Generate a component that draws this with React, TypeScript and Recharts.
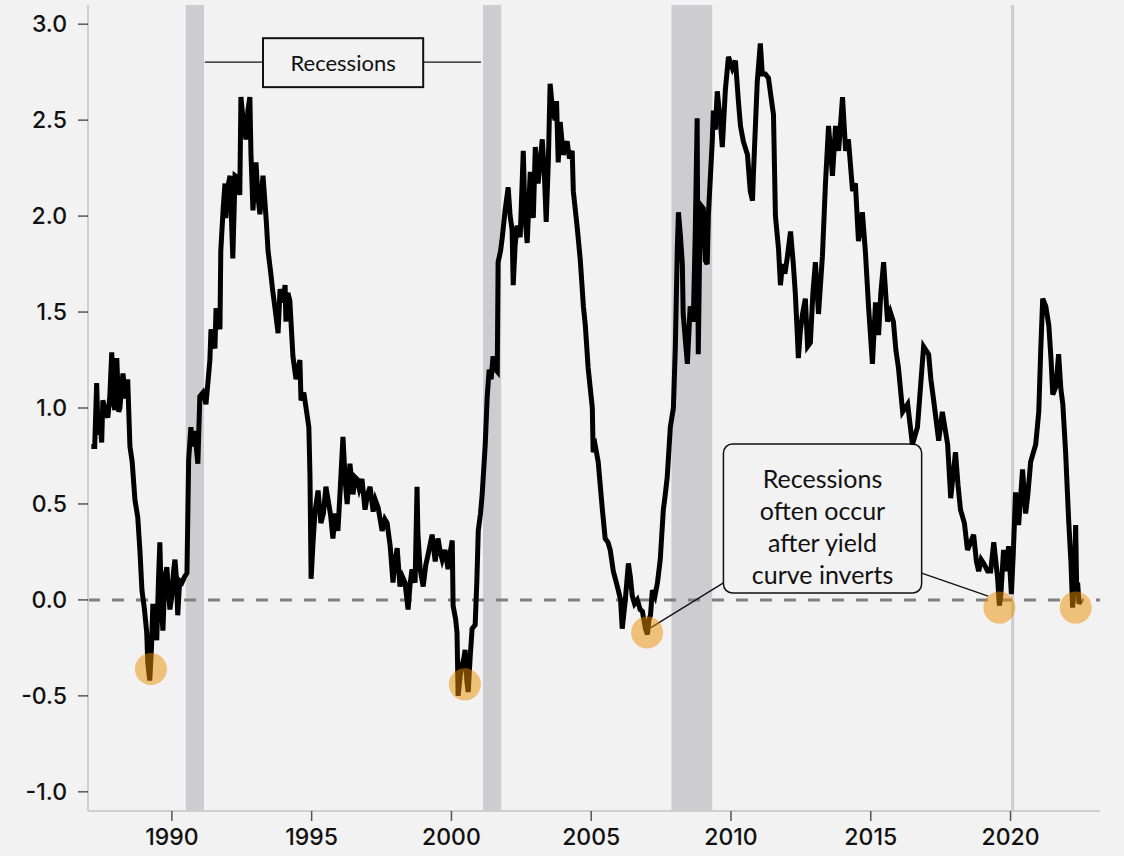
import {
  ComposedChart,
  Line,
  Scatter,
  XAxis,
  YAxis,
  ReferenceArea,
  ReferenceLine
} from 'recharts'

// 10y - 2y treasury spread, read at irregular dates (decimal years)
const years = [
  1987.12, 1987.24, 1987.31, 1987.36, 1987.42, 1987.49, 1987.53, 1987.62, 1987.71, 1987.78,
  1987.85, 1987.92, 1987.96, 1988.03, 1988.1, 1988.14, 1988.25, 1988.35, 1988.42, 1988.5,
  1988.58, 1988.68, 1988.78, 1988.86, 1988.93, 1989.02, 1989.1, 1989.14, 1989.21, 1989.27,
  1989.32, 1989.39, 1989.46, 1989.52, 1989.57, 1989.63, 1989.68, 1989.75, 1989.82, 1989.88,
  1989.93, 1990.0, 1990.06, 1990.11, 1990.16, 1990.21, 1990.28, 1990.36, 1990.45, 1990.54,
  1990.6, 1990.68, 1990.75, 1990.82, 1990.93, 1991.0, 1991.11, 1991.22, 1991.3, 1991.36,
  1991.4, 1991.54, 1991.58, 1991.66, 1991.72, 1991.75, 1991.84, 1991.9, 1991.93, 1992.0,
  1992.08, 1992.18, 1992.26, 1992.35, 1992.43, 1992.47, 1992.55, 1992.65, 1992.72, 1992.79,
  1992.83, 1992.9, 1993.01, 1993.08, 1993.15, 1993.26, 1993.37, 1993.44, 1993.54, 1993.6,
  1993.69, 1993.8, 1993.87, 1993.96, 1994.05, 1994.08, 1994.15, 1994.22, 1994.33, 1994.44,
  1994.58, 1994.62, 1994.72, 1994.8, 1994.9, 1994.94, 1994.98, 1995.05, 1995.12, 1995.23,
  1995.33, 1995.42, 1995.51, 1995.59, 1995.68, 1995.76, 1995.85, 1995.94, 1996.02, 1996.12,
  1996.2, 1996.27, 1996.37, 1996.48, 1996.55, 1996.62, 1996.7, 1996.8, 1996.91, 1997.0,
  1997.09, 1997.2, 1997.28, 1997.38, 1997.45, 1997.52, 1997.62, 1997.7, 1997.81, 1997.91,
  1997.98, 1998.06, 1998.16, 1998.25, 1998.34, 1998.45, 1998.52, 1998.59, 1998.7, 1998.77,
  1998.8, 1998.88, 1998.99, 1999.08, 1999.17, 1999.31, 1999.42, 1999.52, 1999.6, 1999.67,
  1999.77, 1999.88, 1999.96, 2000.03, 2000.06, 2000.15, 2000.2, 2000.24, 2000.31, 2000.38,
  2000.45, 2000.49, 2000.55, 2000.6, 2000.67, 2000.74, 2000.85, 2000.91, 2000.96, 2001.04,
  2001.1, 2001.21, 2001.28, 2001.35, 2001.42, 2001.49, 2001.58, 2001.64, 2001.67, 2001.76,
  2001.82, 2001.92, 2002.03, 2002.1, 2002.17, 2002.21, 2002.28, 2002.35, 2002.46, 2002.57,
  2002.63, 2002.71, 2002.82, 2002.93, 2003.0, 2003.1, 2003.25, 2003.33, 2003.39, 2003.47,
  2003.53, 2003.62, 2003.71, 2003.76, 2003.82, 2003.89, 2004.0, 2004.14, 2004.22, 2004.32,
  2004.36, 2004.5, 2004.61, 2004.72, 2004.79, 2004.89, 2005.04, 2005.07, 2005.15, 2005.25,
  2005.4, 2005.5, 2005.6, 2005.68, 2005.79, 2005.88, 2005.97, 2006.05, 2006.11, 2006.22,
  2006.33, 2006.4, 2006.47, 2006.55, 2006.65, 2006.75, 2006.83, 2006.94, 2007.01, 2007.07,
  2007.12, 2007.19, 2007.28, 2007.37, 2007.47, 2007.58, 2007.65, 2007.72, 2007.83, 2007.94,
  2008.01, 2008.08, 2008.12, 2008.19, 2008.26, 2008.29, 2008.37, 2008.44, 2008.54, 2008.65,
  2008.72, 2008.79, 2008.83, 2008.9, 2009.01, 2009.08, 2009.15, 2009.19, 2009.33, 2009.37,
  2009.44, 2009.51, 2009.62, 2009.69, 2009.8, 2009.91, 2010.05, 2010.16, 2010.27, 2010.34,
  2010.44, 2010.59, 2010.69, 2010.77, 2010.8, 2010.94, 2011.05, 2011.12, 2011.23, 2011.34,
  2011.48, 2011.52, 2011.59, 2011.7, 2011.77, 2011.84, 2011.93, 2012.02, 2012.13, 2012.23,
  2012.3, 2012.38, 2012.41, 2012.48, 2012.56, 2012.66, 2012.74, 2012.84, 2012.93, 2013.02,
  2013.13, 2013.27, 2013.38, 2013.49, 2013.63, 2013.74, 2013.85, 2013.99, 2014.1, 2014.2,
  2014.35, 2014.45, 2014.56, 2014.7, 2014.81, 2014.92, 2015.06, 2015.17, 2015.28, 2015.36,
  2015.46, 2015.6, 2015.7, 2015.81, 2015.9, 2015.99, 2016.14, 2016.32, 2016.49, 2016.67,
  2016.78, 2016.89, 2017.07, 2017.15, 2017.25, 2017.43, 2017.56, 2017.75, 2017.86, 2018.03,
  2018.12, 2018.21, 2018.35, 2018.46, 2018.57, 2018.68, 2018.78, 2018.86, 2018.95, 2019.04,
  2019.18, 2019.29, 2019.4, 2019.54, 2019.6, 2019.65, 2019.75, 2019.85, 2019.93, 2020.03,
  2020.1, 2020.18, 2020.29, 2020.43, 2020.54, 2020.62, 2020.72, 2020.9, 2021.01, 2021.08,
  2021.15, 2021.26, 2021.37, 2021.45, 2021.51, 2021.62, 2021.72, 2021.8, 2021.87, 2021.97,
  2022.08, 2022.16, 2022.22, 2022.28, 2022.33, 2022.37, 2022.4, 2022.45, 2022.51
]

const spread = [
  0.8, 0.8, 1.13, 0.86, 0.95, 0.82, 1.04, 0.98, 0.95, 1.06,
  1.29, 1.02, 0.99, 1.26, 0.98, 1.0, 1.18, 1.05, 1.15, 0.8,
  0.72, 0.52, 0.43, 0.25, 0.05, -0.05, -0.17, -0.33, -0.42, -0.25,
  -0.02, -0.15, -0.21, 0.1, 0.3, -0.05, -0.16, 0.12, 0.17, 0.05,
  -0.05, 0.02, 0.15, 0.21, 0.12, -0.08, 0.1, 0.09, 0.12, 0.14,
  0.73, 0.9, 0.8, 0.88, 0.71, 1.06, 1.08, 1.02, 1.15, 1.25,
  1.41, 1.31, 1.52, 1.45, 1.41, 1.82, 2.05, 2.17, 1.99, 2.15,
  2.21, 1.78, 2.21, 2.2, 2.11, 2.62, 2.5, 2.4, 2.55, 2.62,
  2.32, 2.03, 2.28, 2.1, 2.01, 2.21, 1.99, 1.82, 1.7, 1.62,
  1.52, 1.39, 1.62, 1.55, 1.64, 1.45, 1.6, 1.56, 1.27, 1.15,
  1.25, 1.04, 1.08, 1.0, 0.9, 0.65, 0.11, 0.3, 0.46, 0.57,
  0.4, 0.45, 0.59, 0.52, 0.44, 0.32, 0.45, 0.36, 0.57, 0.85,
  0.62, 0.5, 0.71, 0.55, 0.64, 0.63, 0.58, 0.63, 0.47, 0.55,
  0.59, 0.46, 0.52, 0.48, 0.42, 0.36, 0.42, 0.4, 0.28, 0.09,
  0.2, 0.27, 0.07, 0.12, 0.09, -0.05, 0.08, 0.16, 0.09, 0.59,
  0.35, 0.16, 0.07, 0.18, 0.24, 0.34, 0.2, 0.32, 0.25, 0.21,
  0.26, 0.16, 0.25, 0.31, -0.03, -0.1, -0.17, -0.5, -0.4, -0.34,
  -0.3, -0.26, -0.42, -0.48, -0.3, -0.15, -0.13, 0.1, 0.36, 0.45,
  0.55, 0.81, 1.06, 1.2, 1.15, 1.27, 1.2, 1.19, 1.76, 1.82,
  1.89, 2.03, 2.15, 2.0, 1.93, 1.64, 1.85, 1.95, 1.89, 2.34,
  2.0, 1.86, 2.23, 1.99, 2.36, 2.17, 2.4, 2.2, 1.97, 2.3,
  2.69, 2.55, 2.5, 2.6, 2.28, 2.49, 2.32, 2.39, 2.3, 2.34,
  2.13, 1.94, 1.77, 1.53, 1.43, 1.21, 1.0, 0.77, 0.8, 0.72,
  0.47, 0.32, 0.3, 0.26, 0.15, 0.1, 0.05, 0.0, -0.15, 0.0,
  0.19, 0.12, 0.02, -0.02, 0.0, -0.05, -0.06, -0.15, -0.18, -0.1,
  -0.08, 0.05, 0.02, 0.09, 0.21, 0.47, 0.55, 0.64, 0.9, 1.0,
  1.32, 1.83, 2.02, 1.9, 1.75, 1.49, 1.35, 1.23, 1.53, 1.45,
  1.9, 2.51, 1.28, 2.06, 2.04, 1.77, 1.75, 2.0, 2.39, 2.55,
  2.45, 2.65, 2.49, 2.36, 2.66, 2.83, 2.77, 2.81, 2.59, 2.47,
  2.39, 2.32, 2.13, 2.08, 2.21, 2.7, 2.9, 2.74, 2.74, 2.72,
  2.57, 2.53, 2.0, 1.83, 1.64, 1.75, 1.7, 1.79, 1.92, 1.75,
  1.6, 1.36, 1.26, 1.4, 1.49, 1.57, 1.32, 1.34, 1.6, 1.76,
  1.49, 1.79, 2.17, 2.47, 2.21, 2.47, 2.34, 2.62, 2.34, 2.4,
  2.13, 2.17, 1.87, 2.02, 1.81, 1.53, 1.23, 1.55, 1.38, 1.6,
  1.76, 1.45, 1.5, 1.45, 1.3, 1.21, 0.98, 1.02, 0.81, 0.9,
  1.11, 1.32, 1.28, 1.15, 1.04, 0.83, 0.98, 0.81, 0.53, 0.77,
  0.6, 0.47, 0.4, 0.26, 0.3, 0.34, 0.2, 0.15, 0.21, 0.19,
  0.15, 0.15, 0.3, 0.11, -0.03, 0.02, 0.26, 0.15, 0.28, 0.03,
  0.25, 0.56, 0.39, 0.68, 0.45, 0.55, 0.72, 0.81, 0.98, 1.3,
  1.57, 1.53, 1.43, 1.25, 1.07, 1.11, 1.28, 1.1, 1.02, 0.77,
  0.41, 0.2, -0.04, 0.1, 0.39, 0.02, 0.09, -0.02, 0.0
]

// NBER recession windows
const recessionStarts = [1990.5, 2001.13, 2007.87, 2020.02]
const recessionEnds = [1991.15, 2001.78, 2009.33, 2020.13]

// curve inversions highlighted with a circle
const inversionYears = [1989.25, 2000.48, 2007.0, 2019.6, 2022.33]
const inversionLows = [-0.36, -0.44, -0.17, -0.04, -0.04]

const xTicks = [1990, 1995, 2000, 2005, 2010, 2015, 2020]
const yTicks = [-1, -0.5, 0, 0.5, 1, 1.5, 2, 2.5, 3]

const legendLines = ['Recessions']
const noteLines = ['Recessions', 'often occur', 'after yield', 'curve inverts']

const BG = '#f2f2f2'
const NOTE_FONT = 'Lato, sans-serif'
const AXIS_FONT = 'Inter, sans-serif'

const series = years.map((year, i) => ({ year, spread: spread[i] }))
const inversions = inversionYears.map((year, i) => ({ year, spread: inversionLows[i] }))

type BoxOpts = {
  radius: number
  stroke: number
  fontSize: number
  firstLine: number
  lineHeight: number
}

const noteBox = (lines: string[], opts: BoxOpts) => (props: any) => {
  const { x, y, width, height } = props
  return (
    <g>
      <rect
        x={x}
        y={y}
        width={width}
        height={height}
        rx={opts.radius}
        fill={BG}
        stroke='#111'
        strokeWidth={opts.stroke}
      />
      {lines.map((t, i) => (
        <text
          key={t}
          x={x + width / 2}
          y={y + opts.firstLine + i * opts.lineHeight}
          textAnchor='middle'
          fontFamily={NOTE_FONT}
          fontSize={opts.fontSize}
          fill='#111'
        >
          {t}
        </text>
      ))}
    </g>
  )
}

const inversionDot = (props: any) => (
  <circle cx={props.cx} cy={props.cy} r={16} fill='#e98e00' fillOpacity={0.5} />
)

const tickStyle = { fontSize: 23, fontWeight: 500, fill: '#111', fontFamily: AXIS_FONT }

export default function App () {
  return (
    <div
      style={{
        position: 'absolute',
        left: 0,
        top: 0,
        width: 1124,
        height: 856,
        background: BG
      }}
    >
      <ComposedChart
        width={1124}
        height={856}
        data={series}
        margin={{ top: 5, right: 24, bottom: 0, left: 0 }}
      >
        {recessionStarts.map((start, i) => (
          <ReferenceArea
            key={start}
            x1={start}
            x2={recessionEnds[i]}
            fill='#cdcdcf'
            fillOpacity={1}
            stroke='none'
          />
        ))}

        <XAxis
          type='number'
          dataKey='year'
          domain={[1987, 2023.2]}
          ticks={xTicks}
          allowDataOverflow
          height={45}
          tickSize={10}
          tickMargin={8}
          axisLine={{ stroke: '#cfcfcf', strokeWidth: 2 }}
          tickLine={{ stroke: '#555', strokeWidth: 1.5 }}
          tick={tickStyle}
        />
        <YAxis
          type='number'
          domain={[-1.1, 3.1]}
          ticks={yTicks}
          allowDataOverflow
          width={88}
          tickSize={10}
          tickMargin={11}
          tickFormatter={(v: number) => v.toFixed(1)}
          axisLine={{ stroke: '#cfcfcf', strokeWidth: 2 }}
          tickLine={{ stroke: '#555', strokeWidth: 1.5 }}
          tick={tickStyle}
        />

        <ReferenceLine
          y={0}
          stroke='#808080'
          strokeWidth={3}
          strokeDasharray='12 12'
        />

        {/* legend box for the shaded bands */}
        <ReferenceLine
          segment={[{ x: 1991.18, y: 2.802 }, { x: 1993.26, y: 2.802 }]}
          stroke='#111'
          strokeWidth={1.3}
        />
        <ReferenceLine
          segment={[{ x: 1998.99, y: 2.802 }, { x: 2001.06, y: 2.802 }]}
          stroke='#111'
          strokeWidth={1.3}
        />
        <ReferenceArea
          x1={1993.26}
          x2={1998.99}
          y1={2.672}
          y2={2.927}
          shape={noteBox(legendLines, {
            radius: 0,
            stroke: 2,
            fontSize: 22,
            firstLine: 33,
            lineHeight: 0
          })}
        />

        {/* note about inversions, pointing at two of the circles */}
        <ReferenceLine
          segment={[{ x: 2009.73, y: 0.089 }, { x: 2007.12, y: -0.146 }]}
          stroke='#111'
          strokeWidth={1.3}
        />
        <ReferenceLine
          segment={[{ x: 2016.82, y: 0.14 }, { x: 2019.2, y: 0.02 }]}
          stroke='#111'
          strokeWidth={1.3}
        />
        <ReferenceArea
          x1={2009.73}
          x2={2016.82}
          y1={0.036}
          y2={0.8125}
          shape={noteBox(noteLines, {
            radius: 9,
            stroke: 1.5,
            fontSize: 25,
            firstLine: 44,
            lineHeight: 32
          })}
        />

        <Line
          type='linear'
          dataKey='spread'
          stroke='#000'
          strokeWidth={5}
          dot={false}
          activeDot={false}
          isAnimationActive={false}
        />

        <Scatter
          data={inversions}
          dataKey='spread'
          shape={inversionDot}
          isAnimationActive={false}
        />
      </ComposedChart>
    </div>
  )
}
